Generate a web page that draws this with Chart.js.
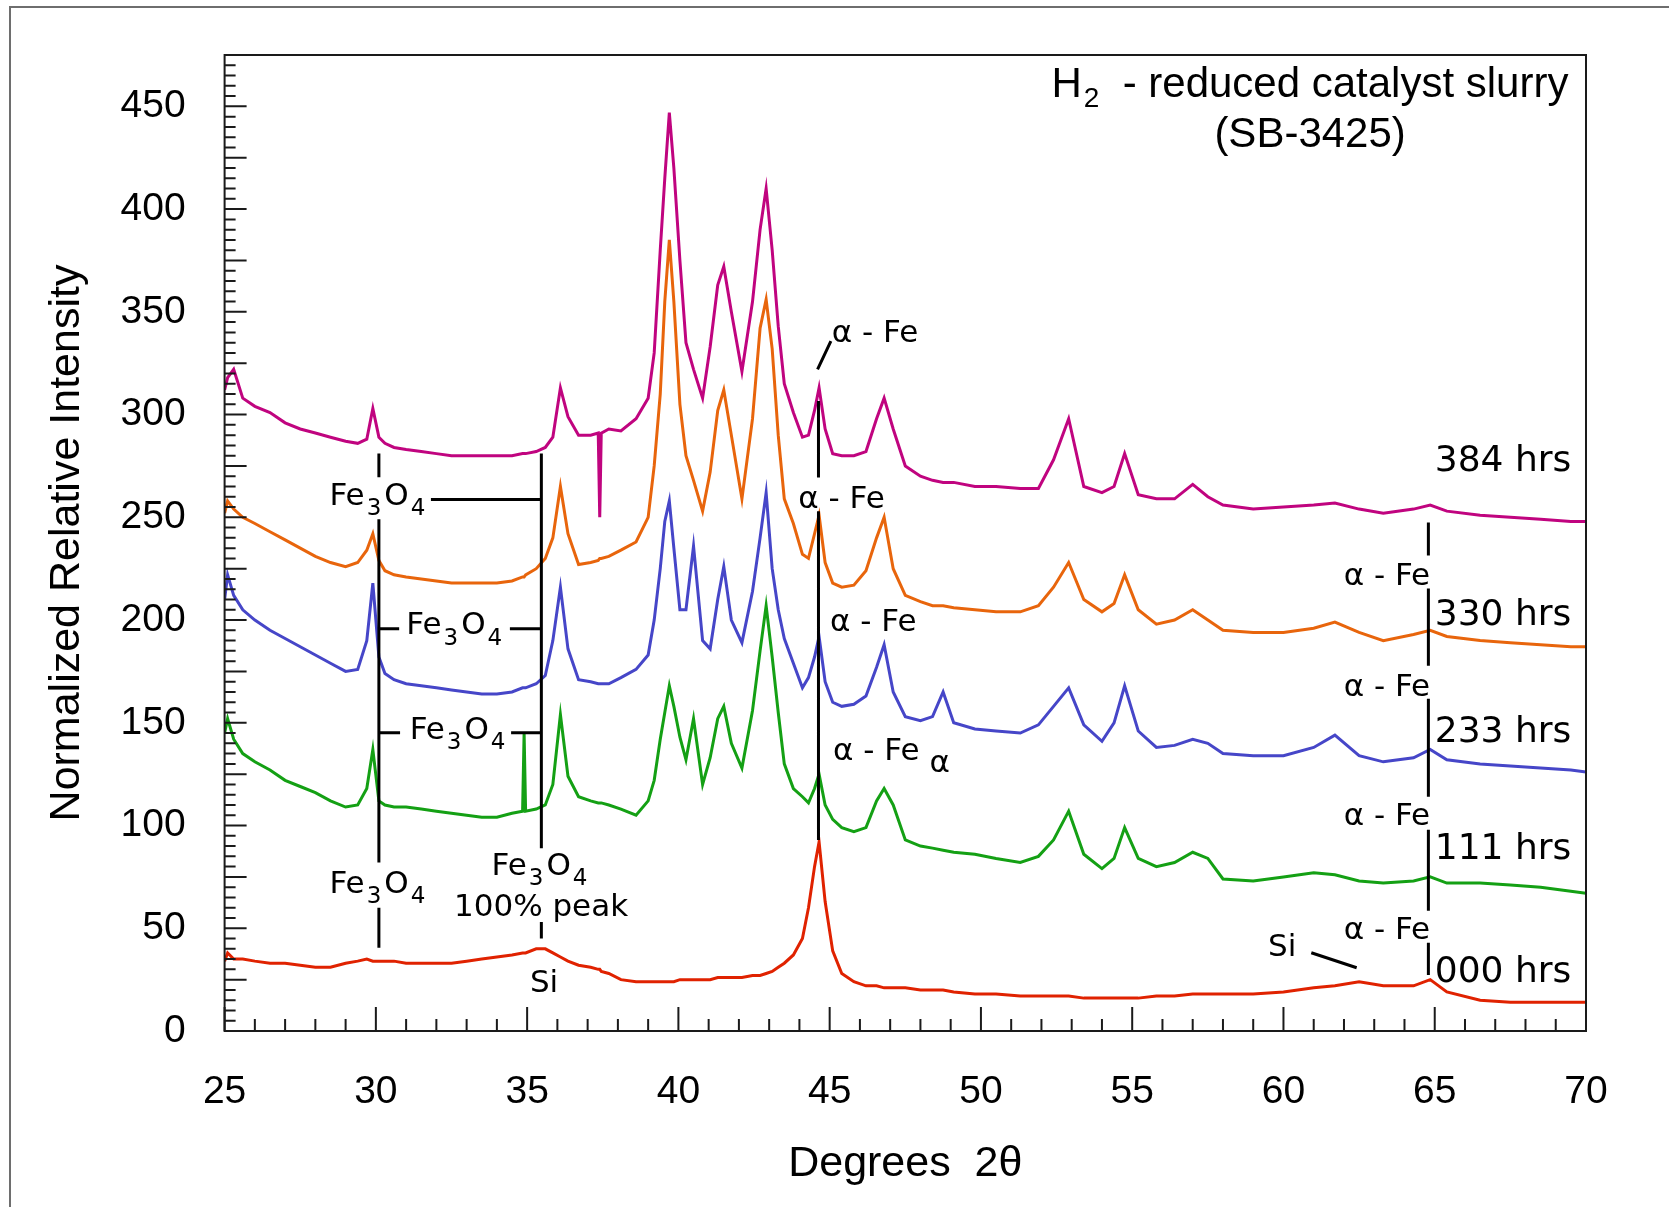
<!DOCTYPE html>
<html>
<head>
<meta charset="utf-8">
<title>XRD - H2 reduced catalyst slurry</title>
<script src="https://cdn.jsdelivr.net/npm/chart.js@4.4.1/dist/chart.umd.min.js"></script>
<style>
  html, body { margin: 0; padding: 0; background: #fff; }
  #wrap { width: 1669px; height: 1207px; }
</style>
</head>
<body>
<div id="wrap"><canvas id="xrdChart" width="1669" height="1207"></canvas></div>
<script>
// 2-theta positions (degrees) shared by all scans
const twoTheta = [
  25.0, 25.1, 25.3, 25.6, 26.0, 26.5, 27.0, 27.5, 28.0, 28.5,
  29.0, 29.4, 29.7, 29.9, 30.1, 30.3, 30.6, 31.0, 31.5, 32.0,
  32.5, 33.0, 33.5, 34.0, 34.5, 34.85, 34.9, 34.95, 35.3, 35.6,
  35.85, 36.1, 36.35, 36.7, 37.1, 37.35, 37.4, 37.45, 37.7, 38.1,
  38.6, 39.0, 39.2, 39.4, 39.55, 39.7, 39.85, 40.05, 40.25, 40.5,
  40.8, 41.05, 41.3, 41.5, 41.75, 42.1, 42.45, 42.7, 42.9, 43.1,
  43.3, 43.5, 43.8, 44.1, 44.3, 44.5, 44.65, 44.85, 45.1, 45.4,
  45.8, 46.2, 46.55, 46.8, 47.1, 47.5, 48.0, 48.4, 48.75, 49.1,
  49.8, 50.5, 51.3, 51.9, 52.4, 52.9, 53.4, 54.0, 54.4, 54.75,
  55.2, 55.8, 56.4, 57.0, 57.5, 58.0, 59.0, 60.0, 61.0, 61.7,
  62.5, 63.3, 64.3, 64.85, 65.4, 66.5, 67.5, 68.5, 69.5, 70.0
];

const hrs384 = [
  312, 318, 322, 308, 304, 301, 296, 293, 291, 289,
  287, 286, 288, 303, 289, 286, 284, 283, 282, 281,
  280, 280, 280, 280, 280, 281, 281, 281, 282, 284,
  289, 313, 299, 290, 290, 291, 250, 291, 293, 292,
  298, 308, 330, 380, 415, 447, 420, 375, 335, 322,
  308, 333, 363, 372, 350, 321, 355, 390, 410, 380,
  343, 315, 301, 289, 290, 302, 313, 293, 281, 280,
  280, 282, 298, 308, 293, 275, 270, 268, 267, 267,
  265, 265, 264, 264, 278, 298, 265, 262, 265, 281,
  261, 259, 259, 266, 260, 256, 254, 255, 256, 257,
  254, 252, 254, 256, 253, 251, 250, 249, 248, 248
];

const hrs330 = [
  252, 258, 254, 250, 247, 243, 239, 235, 231, 228,
  226, 228, 234, 242, 229, 224, 222, 221, 220, 219,
  218, 218, 218, 218, 219, 221, 221, 222, 225, 230,
  240, 265, 242, 227, 228, 229, 230, 230, 231, 234,
  238, 250, 275, 310, 355, 385, 355, 305, 280, 268,
  253, 272, 302, 312, 290, 259, 298, 342, 356, 332,
  290, 259, 247, 232, 230, 242, 251, 228, 218, 216,
  217, 224, 240, 250, 225, 212, 209, 207, 207, 206,
  205, 204, 204, 207, 216, 228, 210, 204, 208, 222,
  205, 198, 200, 205, 200, 195, 194, 194, 196, 199,
  194, 190, 193, 195, 192, 190, 189, 188, 187, 187
];

const hrs233 = [
  210, 222, 212, 205, 200, 195, 191, 187, 183, 179,
  175, 176, 190, 218, 182, 174, 171, 169, 168, 167,
  166, 165, 164, 164, 165, 167, 167, 167, 169, 173,
  190, 216, 186, 171, 170, 169, 169, 169, 169, 172,
  176, 183, 200, 225, 248, 258, 235, 205, 205, 236,
  190, 186, 210, 226, 200, 189, 214, 240, 262, 225,
  205, 191, 179, 167, 172, 182, 192, 170, 160, 158,
  159, 163, 177, 188, 165, 153, 151, 153, 165, 150,
  147, 146, 145, 149, 158, 167, 149, 141, 150, 168,
  146, 138, 139, 142, 140, 135, 134, 134, 138, 144,
  134, 131, 133, 137, 132, 130, 129, 128, 127, 126
];

const hrs111 = [
  145, 152, 142, 135, 131, 127, 122, 119, 116, 112,
  109, 110, 118, 137, 112, 110, 109, 109, 108, 107,
  106, 105, 104, 104, 106, 107, 145, 107, 108, 110,
  120, 154, 124, 114, 112, 111, 111, 111, 110, 108,
  105, 112, 122, 142, 155, 168, 158, 143, 132, 152,
  120, 133, 152, 158, 140, 128, 156, 185, 207, 182,
  155, 130, 118, 114, 111, 118, 125, 110, 103, 99,
  97, 99, 112, 118, 110, 93, 90, 89, 88, 87,
  86, 84, 82, 85, 93, 107, 86, 79, 84, 99,
  84, 80, 82, 87, 84, 74, 73, 75, 77, 76,
  73, 72, 73, 75, 72, 72, 71, 70, 68, 67
];

const hrs000 = [
  34, 38, 35, 35, 34, 33, 33, 32, 31, 31,
  33, 34, 35, 34, 34, 34, 34, 33, 33, 33,
  33, 34, 35, 36, 37, 38, 38, 38, 40, 40,
  38, 36, 34, 32, 31, 30, 30, 29, 28, 25,
  24, 24, 24, 24, 24, 24, 24, 25, 25, 25,
  25, 25, 26, 26, 26, 26, 27, 27, 28, 29,
  31, 33, 37, 45, 60, 80, 92, 63, 39, 28,
  24, 22, 22, 21, 21, 21, 20, 20, 20, 19,
  18, 18, 17, 17, 17, 17, 16, 16, 16, 16,
  16, 17, 17, 18, 18, 18, 18, 19, 21, 22,
  24, 22, 22, 25, 19, 15, 14, 14, 14, 14
];

const seriesLabels = ['384 hrs', '330 hrs', '233 hrs', '111 hrs', '000 hrs'];
const xTickLabels = [25, 30, 35, 40, 45, 50, 55, 60, 65, 70];
const yTickLabels = [0, 50, 100, 150, 200, 250, 300, 350, 400, 450];

// where each "NNN hrs" label sits (degrees, intensity of text centre)
const seriesLabelPos = [[65.0, 279], [65.0, 204], [65.0, 147], [65.0, 90], [65.0, 30]];

const seriesColors = ['#c0047f', '#e8650c', '#4646c8', '#14a014', '#e02200'];
const allSeries = [hrs384, hrs330, hrs233, hrs111, hrs000];

// phase marker lines [deg1, val1, deg2, val2]
const markerLines = [
  [30.1, 281, 30.1, 269.5], [30.1, 249, 30.1, 82], [30.1, 60, 30.1, 40.5],
  [35.47, 281, 35.47, 89], [35.47, 53, 35.47, 45],
  [31.82, 258.7, 35.47, 258.7],
  [30.1, 195.8, 30.77, 195.8], [34.43, 195.8, 35.47, 195.8],
  [30.1, 145.2, 30.8, 145.2], [34.47, 145.2, 35.47, 145.2],
  [44.63, 306.6, 44.63, 269.4], [44.63, 252.9, 44.63, 93],
  [44.60, 322, 45.04, 335.8],
  [64.79, 247.5, 64.79, 231.4], [64.79, 215.3, 64.79, 177.8],
  [64.79, 161.7, 64.79, 114], [64.79, 97.9, 64.79, 58.5],
  [64.79, 42.9, 64.79, 27.3],
  [60.92, 38.1, 62.42, 30.8]
];

const FE3O4 = [['Fe', 0], ['3', 1], ['O', 0], ['4', 1]];
const AFE = [['\u03b1 - Fe', 0]];

// phase labels: parts, degrees, intensity of cap centre, alignment
const phaseLabels = [
  [FE3O4, 30.1, 261.6, 'center'],
  [FE3O4, 32.64, 198.5, 'center'],
  [FE3O4, 32.75, 147.5, 'center'],
  [FE3O4, 30.1, 72.6, 'center'],
  [FE3O4, 35.46, 81.4, 'center'],
  [[['100% peak', 0]], 35.46, 61.4, 'center'],
  [[['Si', 0]], 35.56, 24.6, 'center'],
  [AFE, 45.07, 341, 'left'],
  [AFE, 45.39, 259.9, 'center'],
  [AFE, 45.01, 200.2, 'left'],
  [[['\u03b1 - Fe', 0], ['\u03b1', 2]], 45.11, 137.4, 'left'],
  [AFE, 64.85, 222.6, 'right'],
  [AFE, 64.85, 168.6, 'right'],
  [AFE, 64.85, 105.7, 'right'],
  [AFE, 64.85, 50.2, 'right'],
  [[['Si', 0]], 59.96, 41.9, 'center']
];

Chart.defaults.font.family = '"Liberation Sans", Arial, sans-serif';
Chart.defaults.color = '#000';

const ANNO_FONT = '"DejaVu Sans", sans-serif';

function drawParts(ctx, parts, x, capMid, align, size) {
  const base = capMid + size * 0.729 / 2;
  const items = parts.map(function (p) {
    const kind = p[1];
    const fs = kind === 1 ? Math.round(size * 0.74) : size;
    ctx.font = fs + 'px ' + ANNO_FONT;
    const gl = kind === 1 ? 2 : (kind === 2 ? 10 : 0);
    const gr = kind === 1 ? 3 : 0;
    const dy = kind === 1 ? size * 0.33 : (kind === 2 ? size * 0.4 : 0);
    return { txt: p[0], fs: fs, gl: gl, gr: gr, dy: dy, w: ctx.measureText(p[0]).width };
  });
  let total = 0;
  items.forEach(function (it) { total += it.gl + it.w + it.gr; });
  let cx = align === 'center' ? x - total / 2 : (align === 'right' ? x - total : x);
  ctx.textAlign = 'left';
  ctx.textBaseline = 'alphabetic';
  items.forEach(function (it) {
    cx += it.gl;
    ctx.font = it.fs + 'px ' + ANNO_FONT;
    ctx.fillText(it.txt, cx, base + it.dy);
    cx += it.w + it.gr;
  });
}

const frameAndTicks = {
  id: 'frameAndTicks',
  afterDraw(chart) {
    const ctx = chart.ctx;
    const area = chart.chartArea;
    const xs = chart.scales.x, ys = chart.scales.y;
    ctx.save();
    // outer picture frame
    ctx.strokeStyle = '#6e6e6e';
    ctx.lineWidth = 2;
    ctx.beginPath();
    ctx.moveTo(10, chart.height + 5);
    ctx.lineTo(10, 7);
    ctx.lineTo(chart.width + 5, 7);
    ctx.stroke();
    // plot box
    ctx.strokeStyle = '#1a1a1a';
    ctx.lineWidth = 2;
    ctx.strokeRect(area.left, area.top, area.right - area.left, area.bottom - area.top);
    // inward ticks
    ctx.beginPath();
    for (let v = 0; v <= 475; v += 5) {
      const y = ys.getPixelForValue(v);
      const len = v % 25 === 0 ? 22 : 11;
      ctx.moveTo(area.left, y);
      ctx.lineTo(area.left + len, y);
    }
    for (let d = 25; d <= 70; d += 1) {
      const x = xs.getPixelForValue(d);
      const len = d % 5 === 0 ? 24 : 12;
      ctx.moveTo(x, area.bottom);
      ctx.lineTo(x, area.bottom - len);
    }
    ctx.stroke();
    ctx.restore();
  }
};

const annotations = {
  id: 'annotations',
  afterDatasetsDraw(chart) {
    const ctx = chart.ctx;
    const xs = chart.scales.x, ys = chart.scales.y;
    const X = d => xs.getPixelForValue(d);
    const Y = v => ys.getPixelForValue(v);
    ctx.save();
    ctx.strokeStyle = '#000';
    ctx.fillStyle = '#000';
    ctx.lineWidth = 3;
    ctx.beginPath();
    markerLines.forEach(function (m) {
      ctx.moveTo(X(m[0]), Y(m[1]));
      ctx.lineTo(X(m[2]), Y(m[3]));
    });
    ctx.stroke();

    phaseLabels.forEach(function (l) {
      drawParts(ctx, l[0], X(l[1]), Y(l[2]), l[3], 31);
    });

    seriesLabels.forEach(function (txt, i) {
      drawParts(ctx, [[txt, 0]], X(seriesLabelPos[i][0]), Y(seriesLabelPos[i][1]), 'left', 36);
    });

    // sample title, top right
    const fam = '"Liberation Sans", Arial, sans-serif';
    ctx.textBaseline = 'alphabetic';
    ctx.textAlign = 'left';
    ctx.font = '42px ' + fam;
    const wH = ctx.measureText('H').width;
    const rest = '  - reduced catalyst slurry';
    const wRest = ctx.measureText(rest).width;
    ctx.font = '28px ' + fam;
    const w2 = ctx.measureText('2').width;
    const right = X(69.42), base1 = Y(454.5);
    let x0 = right - (wH + 2 + w2 + wRest);
    ctx.font = '42px ' + fam;
    ctx.fillText('H', x0, base1);
    ctx.font = '28px ' + fam;
    ctx.fillText('2', x0 + wH + 2, base1 + 10);
    ctx.font = '42px ' + fam;
    ctx.fillText(rest, x0 + wH + 2 + w2, base1);
    ctx.textAlign = 'center';
    ctx.fillText('(SB-3425)', X(60.88), Y(430.2));
    ctx.restore();
  }
};

const datasets = allSeries.map(function (vals, i) {
  return {
    label: seriesLabels[i],
    data: twoTheta.map(function (t, j) { return { x: t, y: vals[j] }; }),
    borderColor: seriesColors[i],
    backgroundColor: seriesColors[i],
    borderWidth: 3,
    pointRadius: 0,
    tension: 0,
    fill: false
  };
});

const ctx = document.getElementById('xrdChart').getContext('2d');
const xrdChart = new Chart(ctx, {
  type: 'line',
  data: { datasets: datasets },
  options: {
    responsive: false,
    animation: false,
    devicePixelRatio: 1,
    layout: { padding: { left: 0, top: 55, right: 83, bottom: 0 } },
    plugins: {
      legend: { display: false },
      tooltip: { enabled: false }
    },
    scales: {
      x: {
        type: 'linear',
        min: 25,
        max: 70,
        grid: { display: false, drawTicks: false },
        border: { display: false },
        afterBuildTicks: function (s) { s.ticks = xTickLabels.map(function (v) { return { value: v }; }); },
        afterFit: function (s) { s.height = 176; },
        ticks: { padding: 38, color: '#000', font: { size: 39 }, autoSkip: false, maxRotation: 0 },
        title: {
          display: true,
          text: 'Degrees  2\u03b8',
          color: '#000',
          font: { size: 43 },
          padding: { top: 0, bottom: 17 }
        }
      },
      y: {
        min: 0,
        max: 475,
        // tick marks are drawn by the plugin; tickLength only spaces the labels
        grid: { display: false, drawTicks: true, tickLength: 9 },
        border: { display: false },
        afterBuildTicks: function (s) { s.ticks = yTickLabels.map(function (v) { return { value: v }; }); },
        afterFit: function (s) { s.width = 224.6; },
        ticks: { padding: 30, color: '#000', font: { size: 39 } },
        title: {
          display: true,
          text: 'Normalized Relative Intensity',
          color: '#000',
          font: { size: 43 },
          padding: { top: 41, bottom: 0 }
        }
      }
    }
  },
  plugins: [frameAndTicks, annotations]
});
</script>
</body>
</html>
